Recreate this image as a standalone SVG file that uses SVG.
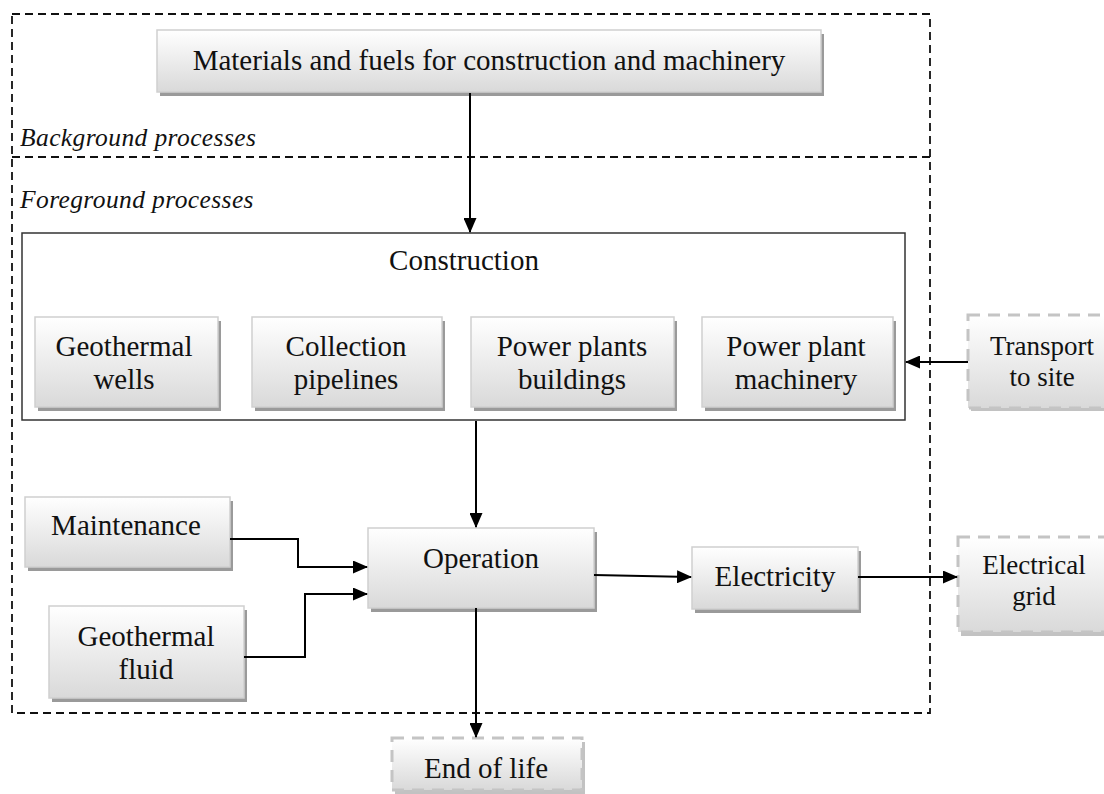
<svg xmlns="http://www.w3.org/2000/svg" width="1104" height="794" viewBox="0 0 1104 794">
<style>
text{font-family:"Liberation Serif","Times New Roman",serif;fill:#111;}
.t{font-size:29px;text-anchor:middle;}
.s{font-size:27px;}
.it{font-size:25.5px;font-style:italic;letter-spacing:0.4px;}
.box{fill:url(#g);stroke:#cfcfcf;stroke-width:1.5;}
.sh{fill:#9a9a9a;}
.dbox{fill:url(#g);stroke:#c4c4c4;stroke-width:3;stroke-dasharray:12 8;}
.conn{fill:none;stroke:#000;stroke-width:2;}
.frame{fill:none;stroke:#111;stroke-width:1.8;stroke-dasharray:8 5;}
</style>
<defs>
<linearGradient id="g" x1="0" y1="0" x2="0" y2="1">
<stop offset="0" stop-color="#ffffff"/>
<stop offset="1" stop-color="#d9d9d9"/>
</linearGradient>
<marker id="a" markerWidth="15" markerHeight="13" refX="14" refY="6.5" orient="auto" markerUnits="userSpaceOnUse">
<path d="M0,0 L15,6.5 L0,13 z" fill="#000"/>
</marker>
</defs>
<rect width="1104" height="794" fill="#fff"/>
<g id="frames">
<rect class="frame" x="12" y="14" width="918" height="699"/>
<line class="frame" x1="12" y1="157" x2="930" y2="157"/>
<text class="it" x="20" y="146">Background processes</text>
<text class="it" x="20" y="208">Foreground processes</text>
</g>
<g id="materials">
<rect class="sh" x="160" y="34" width="664" height="62"/>
<rect class="box" x="157" y="30" width="664" height="62"/>
<text class="t" x="489" y="70">Materials and fuels for construction and machinery</text>
</g>
<g id="construction">
<rect x="22" y="233" width="883" height="187" fill="#fff" stroke="#333" stroke-width="1.5"/>
<text class="t" x="464" y="270">Construction</text>
</g>
<g id="wells">
<rect class="sh" x="38" y="321" width="183" height="90"/>
<rect class="box" x="35" y="317" width="183" height="90"/>
<text class="t" x="124" y="356">Geothermal</text>
<text class="t" x="124" y="389">wells</text>
</g>
<g id="pipelines">
<rect class="sh" x="255" y="321" width="190" height="90"/>
<rect class="box" x="252" y="317" width="190" height="90"/>
<text class="t" x="346" y="356">Collection</text>
<text class="t" x="346" y="389">pipelines</text>
</g>
<g id="buildings">
<rect class="sh" x="474" y="321" width="203" height="90"/>
<rect class="box" x="471" y="317" width="203" height="90"/>
<text class="t" x="572" y="356">Power plants</text>
<text class="t" x="572" y="389">buildings</text>
</g>
<g id="machinery">
<rect class="sh" x="705" y="321" width="191" height="90"/>
<rect class="box" x="702" y="317" width="191" height="90"/>
<text class="t" x="796" y="356">Power plant</text>
<text class="t" x="796" y="389">machinery</text>
</g>
<g id="transport">
<rect class="sh" x="971" y="318" width="140" height="93" opacity="0.6"/>
<rect class="dbox" x="968" y="315" width="140" height="93"/>
<text class="t s" x="1042" y="355">Transport</text>
<text class="t s" x="1042" y="386">to site</text>
</g>
<g id="maintenance">
<rect class="sh" x="28" y="501" width="205" height="70"/>
<rect class="box" x="25" y="497" width="205" height="70"/>
<text class="t" x="126" y="535">Maintenance</text>
</g>
<g id="fluid">
<rect class="sh" x="52" y="610" width="195" height="92"/>
<rect class="box" x="49" y="606" width="195" height="92"/>
<text class="t" x="146" y="646">Geothermal</text>
<text class="t" x="146" y="679">fluid</text>
</g>
<g id="operation">
<rect class="sh" x="371" y="532" width="226" height="80"/>
<rect class="box" x="368" y="528" width="226" height="80"/>
<text class="t" x="481" y="568">Operation</text>
</g>
<g id="electricity">
<rect class="sh" x="695" y="551" width="166" height="62"/>
<rect class="box" x="692" y="547" width="166" height="62"/>
<text class="t" x="775" y="586">Electricity</text>
</g>
<g id="grid">
<rect class="sh" x="961" y="541" width="150" height="95" opacity="0.6"/>
<rect class="dbox" x="958" y="537" width="150" height="95"/>
<text class="t s" x="1034" y="574">Electrical</text>
<text class="t s" x="1034" y="605">grid</text>
</g>
<g id="endoflife">
<rect class="sh" x="395" y="742" width="190" height="52" opacity="0.6"/>
<rect class="dbox" x="392" y="738" width="190" height="52"/>
<text class="t" x="486" y="778">End of life</text>
</g>
<g id="connectors">
<line class="conn" x1="470" y1="93" x2="470" y2="232" marker-end="url(#a)"/>
<line class="conn" x1="476" y1="421" x2="476" y2="527" marker-end="url(#a)"/>
<line class="conn" x1="968" y1="362" x2="906" y2="362" marker-end="url(#a)"/>
<polyline class="conn" points="230,539 298,539 298,567 367,567" marker-end="url(#a)"/>
<polyline class="conn" points="244,657 305,657 305,594 367,594" marker-end="url(#a)"/>
<line class="conn" x1="594" y1="575" x2="691" y2="577" marker-end="url(#a)"/>
<line class="conn" x1="858" y1="577" x2="957" y2="577" marker-end="url(#a)"/>
<line class="conn" x1="476" y1="608" x2="476" y2="737" marker-end="url(#a)"/>
</g>
</svg>
